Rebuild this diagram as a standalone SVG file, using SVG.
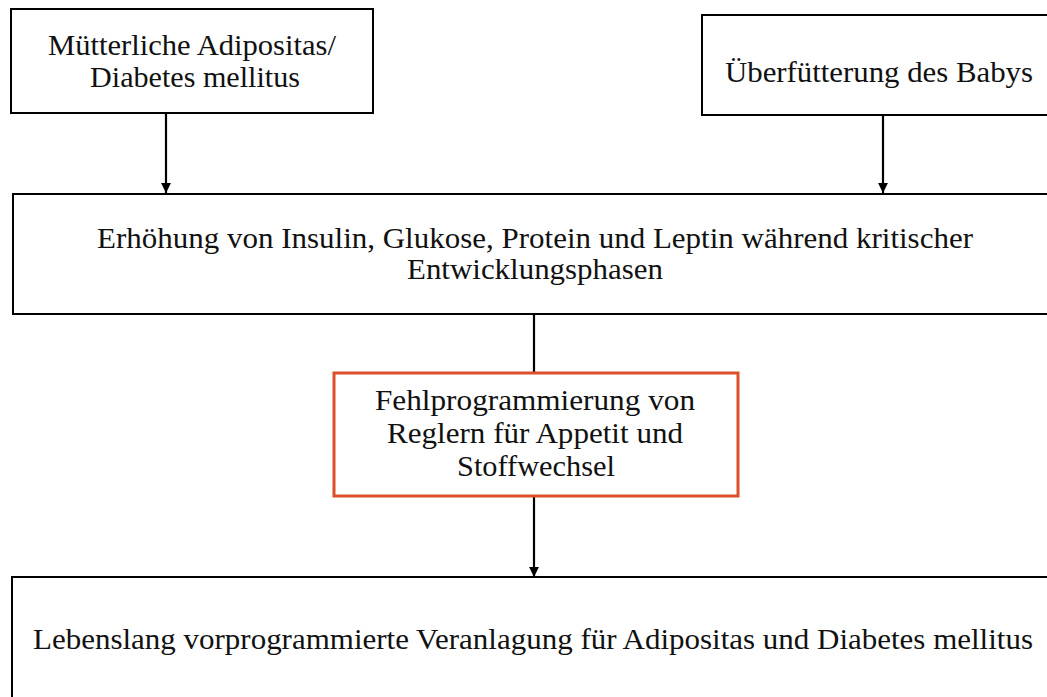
<svg xmlns="http://www.w3.org/2000/svg" width="1047" height="697" viewBox="0 0 1047 697">
<defs>
<style>
.box{fill:#fff;stroke:#000;stroke-width:2}
.hl{fill:#fff;stroke:#D9502A;stroke-width:3}
.t{font-family:"Liberation Serif","Times New Roman",serif;fill:#111;text-anchor:middle}
.c{stroke:#000;stroke-width:2.2;fill:none}
</style>
<marker id="ah" viewBox="0 0 10 10" refX="10" refY="5" markerWidth="4.5" markerHeight="4.5" orient="auto" markerUnits="strokeWidth">
<path d="M0,0 L10,5 L0,10 z" fill="#000"/>
</marker>
</defs>
<rect width="1047" height="697" fill="#fff"/>
<g id="connectors">
<line class="c" x1="166" y1="113" x2="166" y2="193" marker-end="url(#ah)"/>
<line class="c" x1="883" y1="115" x2="883" y2="193" marker-end="url(#ah)"/>
<line class="c" x1="534" y1="314" x2="534" y2="373"/>
<line class="c" x1="534" y1="496" x2="534" y2="577" marker-end="url(#ah)"/>
</g>
<g id="n1">
<rect class="box" x="11" y="9" width="362" height="104"/>
<text class="t" font-size="29" x="192" y="55" textLength="288" lengthAdjust="spacingAndGlyphs">Mütterliche Adipositas/</text>
<text class="t" font-size="29" x="195" y="87" textLength="210" lengthAdjust="spacingAndGlyphs">Diabetes mellitus</text>
</g>
<g id="n2">
<rect class="box" x="702" y="15" width="360" height="100"/>
<text class="t" font-size="30" x="879" y="82" textLength="308" lengthAdjust="spacingAndGlyphs">Überfütterung des Babys</text>
</g>
<g id="n3">
<rect class="box" x="13" y="194" width="1050" height="120"/>
<text class="t" font-size="29" x="535" y="248" textLength="876" lengthAdjust="spacingAndGlyphs">Erhöhung von Insulin, Glukose, Protein und Leptin während kritischer</text>
<text class="t" font-size="29" x="535" y="279" textLength="256" lengthAdjust="spacingAndGlyphs">Entwicklungsphasen</text>
</g>
<g id="n4">
<rect class="hl" x="334" y="373" width="404" height="123"/>
<text class="t" font-size="29" x="535" y="410" textLength="320" lengthAdjust="spacingAndGlyphs">Fehlprogrammierung von</text>
<text class="t" font-size="29" x="535" y="443" textLength="296" lengthAdjust="spacingAndGlyphs">Reglern für Appetit und</text>
<text class="t" font-size="29" x="536" y="476" textLength="158" lengthAdjust="spacingAndGlyphs">Stoffwechsel</text>
</g>
<g id="n5">
<rect class="box" x="12" y="577" width="1050" height="140"/>
<text class="t" font-size="29" x="533" y="649" textLength="1000" lengthAdjust="spacingAndGlyphs">Lebenslang vorprogrammierte Veranlagung für Adipositas und Diabetes mellitus</text>
</g>
</svg>
